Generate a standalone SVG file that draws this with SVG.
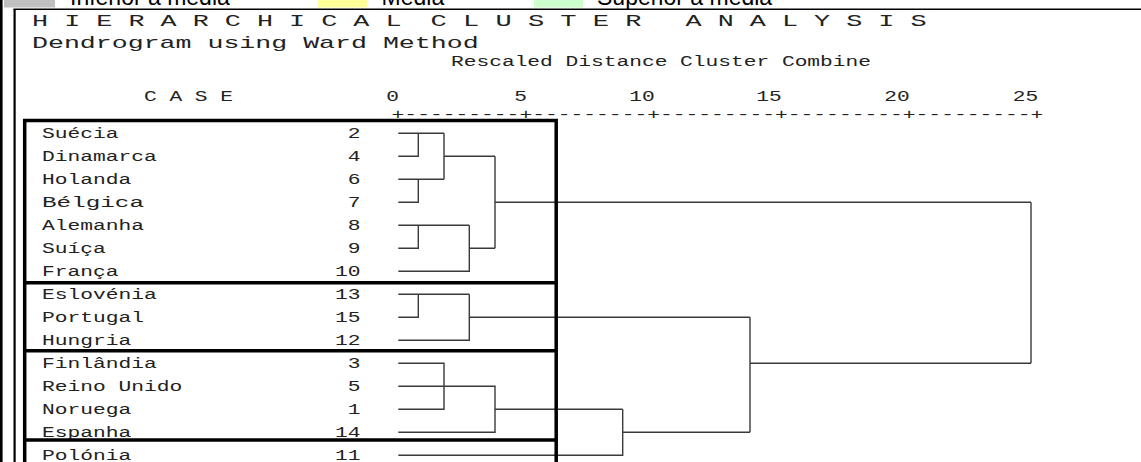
<svg xmlns="http://www.w3.org/2000/svg" width="1141" height="462" viewBox="0 0 1141 462">
<style>
.leg{font-family:"Liberation Sans",Arial,sans-serif;font-size:23px;fill:#000}
.big{font-family:"Liberation Mono","Courier New",monospace;font-size:17px;fill:#222}
.sm{font-family:"Liberation Mono","Courier New",monospace;font-size:14px;fill:#222}
.num{text-anchor:end}
.ln{fill:none;stroke:#3a3a3a;stroke-width:1.4}
.box{fill:none;stroke:#000;stroke-width:3.5}
.frm{fill:none;stroke:#000}
</style>
<rect width="1141" height="462" fill="#fff"/>
<g id="legend">
<rect x="4" y="0" width="51" height="7.5" fill="#c0c0c0"/>
<text class="leg" x="70" y="5">Inferior à media</text>
<rect x="318" y="0" width="49" height="7.5" fill="#ffff99"/>
<text class="leg" x="381.6" y="5">Media</text>
<rect x="534" y="0" width="49" height="7.5" fill="#ccffcc"/>
<text class="leg" x="597" y="5">Superior à media</text>
</g>
<g id="frame">
<line class="frm" x1="1.3" y1="0" x2="1.3" y2="462" stroke-width="2.6"/>
<line class="frm" x1="14.6" y1="9" x2="14.6" y2="462" stroke-width="2.2"/>
<line class="frm" x1="13.5" y1="9.2" x2="1141" y2="9.2" stroke-width="1.6"/>
</g>
<g id="title">
<text class="big" x="32" y="26" textLength="369.5" lengthAdjust="spacingAndGlyphs">H I E R A R C H I C A L</text>
<text class="big" x="430.5" y="26" textLength="211" lengthAdjust="spacingAndGlyphs">C L U S T E R</text>
<text class="big" x="685.5" y="26" textLength="241" lengthAdjust="spacingAndGlyphs">A N A L Y S I S</text>
<text class="big" x="32" y="48" textLength="446.6" lengthAdjust="spacingAndGlyphs">Dendrogram using Ward Method</text>
<text class="sm" x="451" y="66" textLength="420" lengthAdjust="spacingAndGlyphs">Rescaled Distance Cluster Combine</text>
</g>
<g id="axis">
<text class="sm" x="144" y="101" textLength="89" lengthAdjust="spacingAndGlyphs">C A S E</text>
<g class="sm" text-anchor="middle">
<text x="392.5" y="101" textLength="12.7" lengthAdjust="spacingAndGlyphs">0</text>
<text x="520.5" y="101" textLength="12.7" lengthAdjust="spacingAndGlyphs">5</text>
<text x="642" y="101" textLength="25.4" lengthAdjust="spacingAndGlyphs">10</text>
<text x="769" y="101" textLength="25.4" lengthAdjust="spacingAndGlyphs">15</text>
<text x="897" y="101" textLength="25.4" lengthAdjust="spacingAndGlyphs">20</text>
<text x="1025.5" y="101" textLength="25.4" lengthAdjust="spacingAndGlyphs">25</text>
</g>
<text class="sm" x="391.6" y="118.5" textLength="651.8" lengthAdjust="spacingAndGlyphs">+---------+---------+---------+---------+---------+</text>
</g>
<g id="cases" class="sm">
<g id="case-2"><text x="42" y="138.3" textLength="76.5" lengthAdjust="spacingAndGlyphs">Suécia</text><text class="num" x="360.5" y="138.3" textLength="12.75" lengthAdjust="spacingAndGlyphs">2</text></g>
<g id="case-4"><text x="42" y="161.3" textLength="114.75" lengthAdjust="spacingAndGlyphs">Dinamarca</text><text class="num" x="360.5" y="161.3" textLength="12.75" lengthAdjust="spacingAndGlyphs">4</text></g>
<g id="case-6"><text x="42" y="184.3" textLength="89.25" lengthAdjust="spacingAndGlyphs">Holanda</text><text class="num" x="360.5" y="184.3" textLength="12.75" lengthAdjust="spacingAndGlyphs">6</text></g>
<g id="case-7"><text x="42" y="207.3" textLength="102" lengthAdjust="spacingAndGlyphs">Bélgica</text><text class="num" x="360.5" y="207.3" textLength="12.75" lengthAdjust="spacingAndGlyphs">7</text></g>
<g id="case-8"><text x="42" y="230.3" textLength="102" lengthAdjust="spacingAndGlyphs">Alemanha</text><text class="num" x="360.5" y="230.3" textLength="12.75" lengthAdjust="spacingAndGlyphs">8</text></g>
<g id="case-9"><text x="42" y="253.3" textLength="63.75" lengthAdjust="spacingAndGlyphs">Suíça</text><text class="num" x="360.5" y="253.3" textLength="12.75" lengthAdjust="spacingAndGlyphs">9</text></g>
<g id="case-10"><text x="42" y="276.3" textLength="76.5" lengthAdjust="spacingAndGlyphs">França</text><text class="num" x="360.5" y="276.3" textLength="25.5" lengthAdjust="spacingAndGlyphs">10</text></g>
<g id="case-13"><text x="42" y="299.3" textLength="114.75" lengthAdjust="spacingAndGlyphs">Eslovénia</text><text class="num" x="360.5" y="299.3" textLength="25.5" lengthAdjust="spacingAndGlyphs">13</text></g>
<g id="case-15"><text x="42" y="322.3" textLength="102" lengthAdjust="spacingAndGlyphs">Portugal</text><text class="num" x="360.5" y="322.3" textLength="25.5" lengthAdjust="spacingAndGlyphs">15</text></g>
<g id="case-12"><text x="42" y="345.3" textLength="89.25" lengthAdjust="spacingAndGlyphs">Hungria</text><text class="num" x="360.5" y="345.3" textLength="25.5" lengthAdjust="spacingAndGlyphs">12</text></g>
<g id="case-3"><text x="42" y="368.3" textLength="114.75" lengthAdjust="spacingAndGlyphs">Finlândia</text><text class="num" x="360.5" y="368.3" textLength="12.75" lengthAdjust="spacingAndGlyphs">3</text></g>
<g id="case-5"><text x="42" y="391.3" textLength="140.25" lengthAdjust="spacingAndGlyphs">Reino Unido</text><text class="num" x="360.5" y="391.3" textLength="12.75" lengthAdjust="spacingAndGlyphs">5</text></g>
<g id="case-1"><text x="42" y="414.3" textLength="89.25" lengthAdjust="spacingAndGlyphs">Noruega</text><text class="num" x="360.5" y="414.3" textLength="12.75" lengthAdjust="spacingAndGlyphs">1</text></g>
<g id="case-14"><text x="42" y="437.3" textLength="89.25" lengthAdjust="spacingAndGlyphs">Espanha</text><text class="num" x="360.5" y="437.3" textLength="25.5" lengthAdjust="spacingAndGlyphs">14</text></g>
<g id="case-11"><text x="42" y="460.3" textLength="89.25" lengthAdjust="spacingAndGlyphs">Polónia</text><text class="num" x="360.5" y="460.3" textLength="25.5" lengthAdjust="spacingAndGlyphs">11</text></g>
</g>
<g id="connectors" class="ln">
<path d="M398.3 133.3H418.3V156.3H398.3M418.3 133.3H444"/>
<path d="M398.3 179.3H418.3V202.3H398.3M418.3 179.3H444"/>
<path d="M444 133.3V179.3M444 156.3H495"/>
<path d="M398.3 225.3H418.3V248.3H398.3M418.3 225.3H469.3"/>
<path d="M398.3 271.3H469.3V225.3M469.3 248.3H495"/>
<path d="M495 156.3V248.3M495 202.3H1031"/>
<path d="M398.3 294.3H418.3V317.3H398.3M418.3 294.3H469.3"/>
<path d="M398.3 340.3H469.3V294.3M469.3 317.3H750"/>
<path d="M398.3 363.3H444V409.3H398.3"/>
<path d="M398.3 386.3H495V432.3H398.3M495 409.3H622.7"/>
<path d="M398.3 455.3H622.7V409.3M622.7 432.3H750"/>
<path d="M750 317.3V432.3M750 363.3H1031"/>
<path d="M1031 202.3V363.3"/>
</g>
<g id="clusters" class="box">
<path d="M24.7 462V120.5H556.2V462"/>
<path d="M24.7 282.7H556.2M24.7 350.7H556.2M24.7 440H556.2"/>
</g>
</svg>
